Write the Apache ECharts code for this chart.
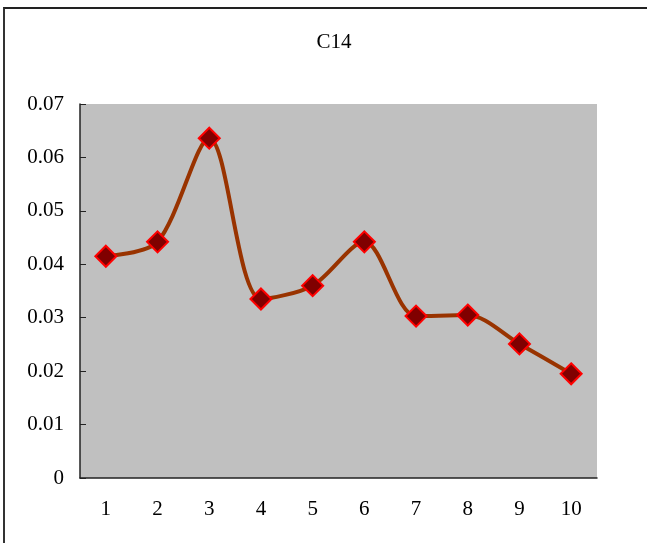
<!DOCTYPE html>
<html>
<head>
<meta charset="utf-8">
<script src="https://cdn.jsdelivr.net/npm/echarts@6/dist/echarts.min.js"></script>
<style>
  html, body { margin: 0; padding: 0; background: #fff; }
  #wrap { position: relative; width: 647px; height: 543px; }
  #frame { position: absolute; left: 3px; top: 7px; right: 0; bottom: 0;
           border-top: 2px solid #222; border-left: 2px solid #333; }
  #chart { position: absolute; left: 0; top: 0; width: 647px; height: 543px; }
</style>
</head>
<body>
<div id="wrap">
  <div id="frame"></div>
  <div id="chart"></div>
</div>
<script>
  const categories = ['1', '2', '3', '4', '5', '6', '7', '8', '9', '10'];
  const values = [0.0415, 0.0442, 0.0636, 0.0335, 0.036, 0.0442, 0.0303, 0.0305, 0.0251, 0.0195];
  const yTicks = [0, 0.01, 0.02, 0.03, 0.04, 0.05, 0.06, 0.07];

  const font = '"Liberation Serif", "DejaVu Serif", serif';
  const chart = echarts.init(document.getElementById('chart'));

  chart.setOption({
    animation: false,
    title: {
      text: 'C14',
      left: 329,
      top: 27,
      textAlign: 'center',
      textStyle: { fontFamily: font, fontSize: 21, fontWeight: 'normal', color: '#000' }
    },
    grid: {
      left: 80,
      top: 104,
      right: 50,
      bottom: 65,
      show: true,
      backgroundColor: '#c0c0c0',
      borderWidth: 0
    },
    xAxis: {
      type: 'category',
      data: categories,
      boundaryGap: true,
      axisLine: { lineStyle: { color: '#222', width: 1.5 } },
      axisTick: { inside: true, length: 6, lineStyle: { color: '#222' } },
      axisLabel: { margin: 21, fontFamily: font, fontSize: 21, color: '#000' },
      splitLine: { show: false }
    },
    yAxis: {
      type: 'value',
      min: yTicks[0],
      max: yTicks[yTicks.length - 1],
      interval: 0.01,
      axisLine: { show: true, lineStyle: { color: '#222', width: 1.5 } },
      axisTick: { show: true, inside: true, length: 6, lineStyle: { color: '#222' } },
      axisLabel: {
        margin: 16,
        fontFamily: font,
        fontSize: 21,
        color: '#000',
        formatter: v => (v === 0 ? '0' : v.toFixed(2))
      },
      splitLine: { show: false }
    },
    series: [{
      name: 'C14',
      type: 'line',
      data: values,
      smooth: 0.3,
      symbol: 'diamond',
      symbolSize: 21,
      lineStyle: { color: '#993300', width: 4 },
      itemStyle: { color: '#800000', borderColor: '#ff0000', borderWidth: 2 }
    }]
  });
</script>
</body>
</html>
